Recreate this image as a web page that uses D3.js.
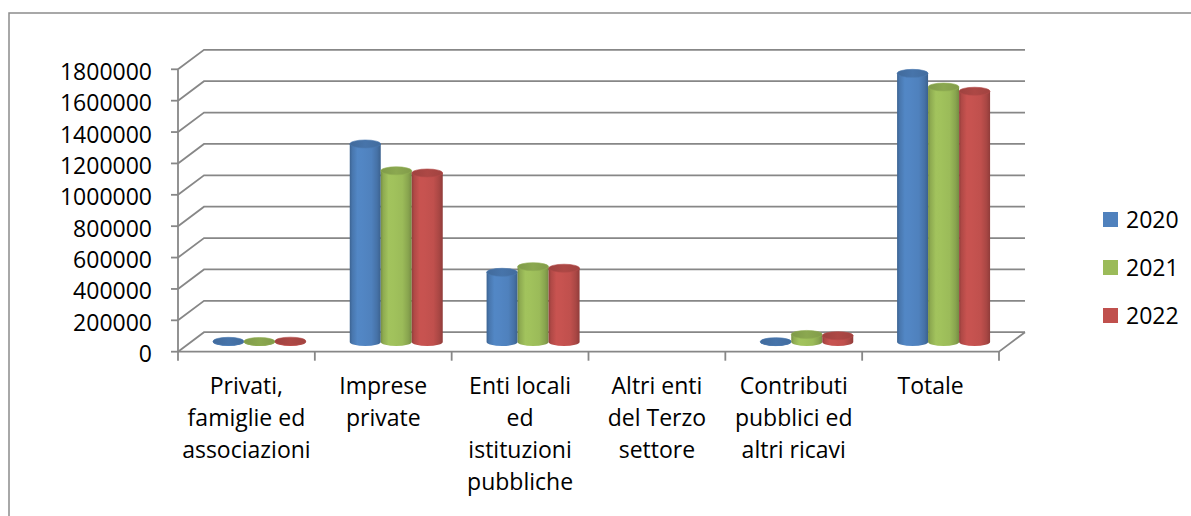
<!DOCTYPE html>
<html>
<head>
<meta charset="utf-8">
<script src="https://cdn.jsdelivr.net/npm/d3@7"></script>
<style>
  html, body { margin: 0; padding: 0; background: #fff; }
  svg { display: block; }
  text { font-family: "Open Sans", "Liberation Sans", sans-serif; fill: #000; }
</style>
</head>
<body>
<svg id="chart" width="1191" height="516"></svg>
<script>
// ---------- data ----------
const categories = [
  "Privati, famiglie ed associazioni",
  "Imprese private",
  "Enti locali ed istituzioni pubbliche",
  "Altri enti del Terzo settore",
  "Contributi pubblici ed altri ricavi",
  "Totale"
];
const categoryLines = [
  ["Privati,", "famiglie ed", "associazioni"],
  ["Imprese", "private"],
  ["Enti locali", "ed", "istituzioni", "pubbliche"],
  ["Altri enti", "del Terzo", "settore"],
  ["Contributi", "pubblici ed", "altri ricavi"],
  ["Totale"]
];
const years = ["2020", "2021", "2022"];
const values2020 = [4000, 1262000, 444000, null, 2000, 1712000];
const values2021 = [3000, 1091000, 480000, null, 48000, 1625000];
const values2022 = [5000, 1077000, 470000, null, 40000, 1598000];
const yTicks = [0, 200000, 400000, 600000, 800000, 1000000, 1200000, 1400000, 1600000, 1800000];
const seriesColors = ["#4F81BD", "#9BBB59", "#C0504D"];

const seriesValues = [values2020, values2021, values2022];

// ---------- layout ----------
const svg = d3.select("#chart");
const frontLeft = 178, frontRight = 999;
const frontBottom = 351.7, frontTop = 69.3;
const depthX = 26, depthY = -19.5;
const gridColor = "#878787";

const x = d3.scaleBand().domain(categories).range([frontLeft, frontRight]).paddingInner(0).paddingOuter(0);
const y = d3.scaleLinear().domain([0, 1800000]).range([frontBottom, frontTop]);
const xs = d3.scaleBand().domain(years).range([-46.5, 46.5]).padding(0);

// outer border
svg.append("rect").attr("x", 9).attr("y", 13).attr("width", 1400).attr("height", 700)
  .attr("fill", "none").attr("stroke", "#8c8c8c").attr("stroke-width", 1.5);

const grid = svg.append("g").attr("fill", "none").attr("stroke", gridColor).attr("stroke-width", 1.8);

// back wall horizontal gridlines + side wall diagonals
yTicks.forEach(t => {
  const yf = y(t);
  grid.append("path").attr("d",
    `M${frontLeft},${yf} L${frontLeft + depthX},${yf + depthY} L${frontRight + depthX},${yf + depthY}`);
});
// left vertical axis line
grid.append("line").attr("x1", frontLeft).attr("x2", frontLeft).attr("y1", y(1800000)).attr("y2", y(0));
// floor front edge and right diagonal
grid.append("path").attr("d",
  `M${frontLeft},${y(0)} L${frontRight},${y(0)} L${frontRight + depthX},${y(0) + depthY}`);
// y ticks
yTicks.forEach(t => {
  grid.append("line").attr("x1", frontLeft - 7).attr("x2", frontLeft).attr("y1", y(t)).attr("y2", y(t));
});
// category ticks
const catEdges = categories.map(c => x(c)).concat([frontRight]);
catEdges.forEach(e => {
  grid.append("line").attr("x1", e).attr("x2", e).attr("y1", y(0)).attr("y2", y(0) + 9);
});

// y tick labels
svg.append("g").selectAll("text").data(yTicks).join("text")
  .attr("x", 152).attr("y", d => y(d) + 10.5)
  .attr("text-anchor", "end").style("font-size", "23px")
  .text(d => d3.format("d")(d));

// category labels
const lab = svg.append("g");
categories.forEach((c, i) => {
  const cx = x(c) + x.bandwidth() / 2;
  categoryLines[i].forEach((ln, j) => {
    lab.append("text").attr("x", cx).attr("y", 394 + j * 32)
      .attr("text-anchor", "middle").style("font-size", "23px").text(ln);
  });
});

// gradients
const defs = svg.append("defs");
seriesColors.forEach((col, k) => {
  const c = d3.color(col);
  const g = defs.append("linearGradient").attr("id", "cyl" + k)
    .attr("x1", "0%").attr("x2", "100%").attr("y1", "0%").attr("y2", "0%");
  const stops = [
    [0, c.darker(0.75)], [0.08, c.darker(0.25)], [0.25, c.brighter(0.12)],
    [0.4, c.brighter(0.1)], [0.7, c], [0.88, c.darker(0.35)], [1, c.darker(0.8)]
  ];
  stops.forEach(([o, cc]) => g.append("stop").attr("offset", o).attr("stop-color", cc.formatHex()));
  const gt = defs.append("linearGradient").attr("id", "top" + k)
    .attr("x1", "0%").attr("x2", "100%").attr("y1", "0%").attr("y2", "0%");
  [[0, c.darker(0.55)], [0.5, c.darker(0.3)], [1, c.darker(0.5)]]
    .forEach(([o, cc]) => gt.append("stop").attr("offset", o).attr("stop-color", cc.formatHex()));
});

// cylinders
const rx = 15.5, ry = 4;
const bars = svg.append("g");
categories.forEach((c, i) => {
  years.forEach((yr, k) => {
    const v = seriesValues[k][i];
    if (v === null || v === undefined) return;
    const cx = x(c) + x.bandwidth() / 2 + depthX / 2 + xs(yr) + xs.bandwidth() / 2;
    const yBase = y(0) + depthY / 2;
    const yTop = y(v) + depthY / 2;
    const g = bars.append("g");
    if (yBase - yTop > 0.5) {
      g.append("path")
        .attr("d", `M${cx - rx},${yTop} L${cx - rx},${yBase} A${rx},${ry} 0 0 0 ${cx + rx},${yBase} L${cx + rx},${yTop} Z`)
        .attr("fill", `url(#cyl${k})`);
    } else {
      g.append("ellipse").attr("cx", cx).attr("cy", yBase).attr("rx", rx).attr("ry", ry)
        .attr("fill", `url(#top${k})`);
    }
    g.append("ellipse").attr("cx", cx).attr("cy", yTop).attr("rx", rx).attr("ry", ry)
      .attr("fill", `url(#top${k})`)
      .attr("stroke", d3.color(seriesColors[k]).darker(0.2).formatHex()).attr("stroke-width", 0.6);
  });
});

// legend
const legend = svg.append("g");
years.forEach((yr, k) => {
  const cy = 219.5 + k * 48;
  legend.append("rect").attr("x", 1103).attr("y", cy - 7.5).attr("width", 15).attr("height", 15)
    .attr("fill", seriesColors[k]);
  legend.append("text").attr("x", 1126).attr("y", cy + 8.5).style("font-size", "23px").text(yr);
});
</script>
</body>
</html>
